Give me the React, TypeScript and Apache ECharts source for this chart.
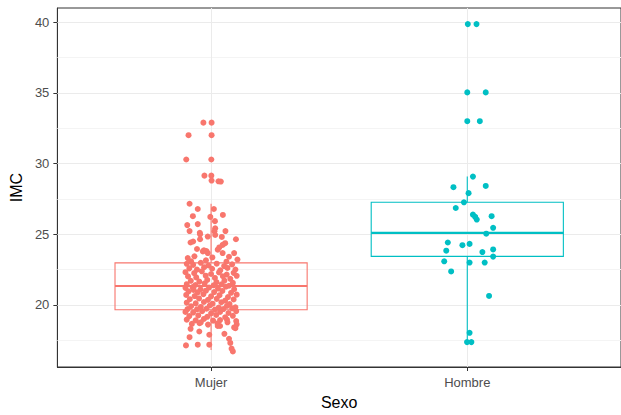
import React, { useEffect, useRef } from "react";
import * as echarts from "echarts";

const categories = ["Mujer", "Hombre"];
const colors = ["#F8766D", "#00BFC4"];
const yTicks = [20, 25, 30, 35, 40];
const yMinorTicks = [17.5, 22.5, 27.5, 32.5, 37.5];

// box stats: [lowerWhisker, Q1, median, Q3, upperWhisker]
const mujerBox = [16.8, 19.65, 21.33, 22.97, 27.15];
const hombreBox = [17.36, 23.43, 25.09, 27.26, 29.07];

// jitter points: [horizontal jitter (category units), IMC]
const mujerPoints = [
  [-0.03, 32.89], [0.002, 32.89], [-0.088, 32.0], [0.002, 32.0], [-0.097, 30.28], [0.001, 30.28],
  [-0.026, 29.14], [0.001, 29.14], [0.002, 28.79], [0.029, 28.74], [0.038, 28.72], [-0.084, 27.15],
  [-0.052, 26.78], [0.011, 26.78], [-0.071, 26.27], [-0.003, 26.22], [0.046, 26.36], [0.015, 25.92],
  [-0.093, 25.64], [-0.052, 25.71], [0.016, 25.41], [-0.084, 25.22], [-0.044, 25.1], [0.056, 25.22],
  [0.013, 25.2], [-0.043, 24.99], [-0.07, 24.48], [-0.043, 24.64], [-0.013, 24.83], [0.016, 24.94],
  [0.042, 24.8], [0.097, 24.64], [0.055, 24.36], [0.045, 24.24], [0.032, 24.06], [-0.028, 23.86],
  [-0.018, 23.8], [-0.08, 24.41], [-0.032, 23.78], [-0.013, 23.66], [0.026, 23.9], [0.045, 23.66],
  [0.09, 23.66], [0.103, 23.2], [-0.091, 23.31], [-0.065, 23.43], [-0.078, 23.08], [-0.055, 23.95],
  [0.07, 23.4], [0.005, 23.35], [0.06, 23.05], [-0.02, 23.15],
  [-0.095, 22.9], [-0.07, 22.82], [-0.04, 22.97], [-0.01, 22.78], [0.022, 22.91], [0.051, 22.74], [0.082, 22.86],
  [-0.085, 22.58], [-0.055, 22.49], [-0.027, 22.66], [0.004, 22.55], [0.036, 22.44], [0.064, 22.61], [0.095, 22.5],
  [-0.1, 22.31], [-0.066, 22.24], [-0.036, 22.37], [0.0, 22.18], [0.031, 22.29], [0.061, 22.14], [0.088, 22.26],
  [-0.09, 22.01], [-0.058, 21.94], [-0.021, 22.06], [0.015, 21.9], [0.046, 22.02], [0.075, 21.84], [0.1, 22.05],
  [-0.079, 21.7], [-0.046, 21.64], [-0.015, 21.76], [0.021, 21.6], [0.052, 21.71], [0.085, 21.55],
  [-0.095, 21.46], [-0.061, 21.4], [-0.025, 21.51], [0.01, 21.38], [0.041, 21.45], [0.07, 21.35],
  [-0.1, 21.2], [-0.072, 21.25], [-0.041, 21.1], [-0.008, 21.22], [0.027, 21.15], [0.058, 21.28], [0.09, 21.1],
  [-0.088, 20.95], [-0.052, 20.88], [-0.02, 21.0], [0.012, 20.9], [0.044, 20.98], [0.078, 20.85],
  [-0.097, 20.7], [-0.064, 20.62], [-0.03, 20.75], [0.0, 20.6], [0.033, 20.68], [0.066, 20.55], [0.1, 20.72],
  [-0.083, 20.4], [-0.047, 20.45], [-0.012, 20.35], [0.022, 20.42], [0.055, 20.3], [0.088, 20.38],
  [-0.095, 20.15], [-0.06, 20.1], [-0.028, 20.2], [0.006, 20.08], [0.04, 20.18], [0.072, 20.05],
  [-0.078, 19.9], [-0.04, 19.85], [-0.005, 19.95], [0.03, 19.8], [0.062, 19.92], [0.095, 19.82],
  [-0.092, 19.7], [-0.055, 19.68], [-0.018, 19.72], [0.015, 19.66], [0.048, 19.7], [0.082, 19.75], [-0.068, 21.05],
  [-0.1, 19.5], [-0.07, 19.45], [-0.035, 19.55], [0.0, 19.4], [0.035, 19.5], [0.068, 19.42], [0.098, 19.55],
  [-0.085, 19.2], [-0.05, 19.25], [-0.015, 19.15], [0.02, 19.28], [0.055, 19.12], [0.085, 19.22],
  [-0.095, 18.95], [-0.06, 18.9], [-0.028, 19.0], [0.008, 18.88], [0.035, 18.92], [0.062, 18.96], [0.098, 18.85],
  [-0.075, 18.65], [-0.045, 18.7], [-0.012, 18.6], [0.025, 18.68], [0.1, 18.62],
  [0.035, 18.5], [0.09, 18.4], [-0.046, 18.11], [-0.007, 17.88], [0.052, 17.95], [0.095, 18.35], [-0.084, 17.71],
  [0.07, 17.6], [0.075, 17.3], [0.08, 16.9], [0.085, 16.7], [-0.098, 17.13], [-0.052, 17.18], [-0.007, 17.18],
  [0.026, 18.5], [0.064, 18.76], [-0.04, 18.76], [-0.08, 18.3],
];

const hombrePoints = [
  [0.002, 39.86], [0.036, 39.86], [0.0, 35.03], [0.072, 35.03], [0.0, 32.99], [0.049, 32.99],
  [0.022, 29.07], [-0.054, 28.32], [0.072, 28.41], [0.005, 27.9], [-0.013, 27.25], [-0.045, 26.85],
  [0.022, 26.38], [0.031, 26.22], [0.037, 26.03], [0.095, 26.27], [0.101, 25.45], [0.074, 25.03],
  [-0.076, 24.41], [-0.082, 23.83], [-0.019, 24.22], [0.009, 24.31], [0.059, 23.73], [0.101, 23.92],
  [0.101, 23.41], [-0.09, 23.08], [0.009, 22.99], [0.068, 22.99], [-0.063, 22.36], [0.085, 20.63],
  [0.009, 18.02], [-0.001, 17.36], [0.016, 17.36],
];

const FONT = "'Liberation Sans', Arial, sans-serif";

export default function App() {
  const ref = useRef<HTMLDivElement>(null);
  useEffect(() => {
    if (!ref.current) return;
    const chart = echarts.init(ref.current, undefined, { renderer: "svg" });
    const boxes = [mujerBox, hombreBox].map((b, i) => [i + 1, ...b]);
    const gridLines = [
      ...yMinorTicks.map((v) => ({ yAxis: v, lineStyle: { color: "#F4F4F4", width: 1, type: "solid" } })),
      ...yTicks.map((v) => ({ yAxis: v, lineStyle: { color: "#EBEBEB", width: 1, type: "solid" } })),
      ...categories.map((_, i) => ({ xAxis: i + 1, lineStyle: { color: "#EBEBEB", width: 1, type: "solid" } })),
    ];
    chart.setOption({
      animation: false,
      grid: {
        left: 54,
        top: 8,
        width: 570,
        height: 364,
        show: true,
        borderColor: "#333333",
        borderWidth: 1,
        backgroundColor: "transparent",
      },
      xAxis: {
        type: "value",
        min: 0.4,
        max: 2.6,
        name: "Sexo",
        nameLocation: "middle",
        nameGap: 27,
        nameTextStyle: { color: "#000", fontSize: 16, fontFamily: FONT },
        splitLine: { show: false },
        axisLine: { show: true, lineStyle: { color: "#333333" } },
        axisTick: { show: true, length: 4, customValues: [1, 2], lineStyle: { color: "#333333" } },
        axisLabel: {
          customValues: [1, 2],
          formatter: (v: number) => categories[Math.round(v) - 1] ?? "",
          color: "#4D4D4D",
          fontSize: 13,
          fontFamily: FONT,
          margin: 9,
        },
      },
      yAxis: {
        type: "value",
        min: 15.6,
        max: 41.0,
        name: "IMC",
        nameLocation: "middle",
        nameGap: 33,
        nameRotate: 90,
        nameTextStyle: { color: "#000", fontSize: 16, fontFamily: FONT },
        splitLine: { show: false },
        axisLine: { show: true, lineStyle: { color: "#333333" } },
        axisTick: { show: true, length: 4, customValues: yTicks, lineStyle: { color: "#333333" } },
        axisLabel: {
          customValues: yTicks,
          color: "#4D4D4D",
          fontSize: 13,
          fontFamily: FONT,
          margin: 8,
        },
      },
      series: [
        {
          type: "line",
          data: [],
          silent: true,
          z: 1,
          markLine: {
            silent: true,
            z: 1,
            symbol: ["none", "none"],
            label: { show: false },
            animation: false,
            lineStyle: { type: "solid" },
            emphasis: { disabled: true },
            data: gridLines,
          },
        },
        {
          type: "custom",
          z: 2,
          silent: true,
          data: boxes,
          encode: { x: 0, y: [1, 2, 3, 4, 5] },
          renderItem: (params: any, api: any) => {
            const idx = params.dataIndex;
            const x = api.value(0);
            const lo = api.coord([x, api.value(1)]);
            const q1 = api.coord([x, api.value(2)]);
            const med = api.coord([x, api.value(3)]);
            const q3 = api.coord([x, api.value(4)]);
            const hi = api.coord([x, api.value(5)]);
            const w = api.size([0.75, 0])[0];
            const c = colors[idx];
            const st = { stroke: c, lineWidth: 1.1, fill: "none" };
            return {
              type: "group",
              children: [
                { type: "line", shape: { x1: lo[0], y1: lo[1], x2: q1[0], y2: q1[1] }, style: st },
                { type: "line", shape: { x1: q3[0], y1: q3[1], x2: hi[0], y2: hi[1] }, style: st },
                {
                  type: "rect",
                  shape: { x: q3[0] - w / 2, y: q3[1], width: w, height: q1[1] - q3[1] },
                  style: st,
                },
                {
                  type: "line",
                  shape: { x1: med[0] - w / 2, y1: med[1], x2: med[0] + w / 2, y2: med[1] },
                  style: { stroke: c, lineWidth: 2.2 },
                },
              ],
            };
          },
        },
        {
          type: "scatter",
          name: categories[0],
          z: 3,
          symbolSize: 6,
          itemStyle: { color: colors[0], opacity: 1 },
          data: mujerPoints.map(([j, v]) => [1 + j, v]),
        },
        {
          type: "scatter",
          name: categories[1],
          z: 3,
          symbolSize: 6,
          itemStyle: { color: colors[1], opacity: 1 },
          data: hombrePoints.map(([j, v]) => [2 + j, v]),
        },
      ],
    });
    return () => chart.dispose();
  }, []);
  return (
    <div
      ref={ref}
      style={{ position: "absolute", left: 0, top: 0, width: 621, height: 415, background: "#fff" }}
    />
  );
}
